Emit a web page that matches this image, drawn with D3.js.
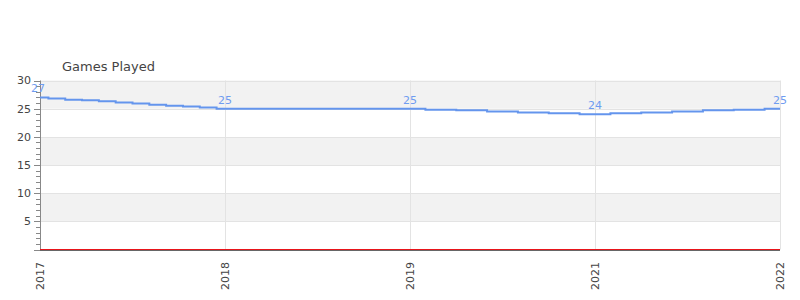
<!DOCTYPE html>
<html>
<head>
<meta charset="utf-8">
<script src="https://cdn.jsdelivr.net/npm/d3@7"></script>
<style>
  body { margin: 0; background: #fff; }
  svg { display: block; font-family: "DejaVu Sans", sans-serif; }
</style>
</head>
<body>
<div id="chart"></div>
<script>
const years = ["2017", "2018", "2019", "2021", "2022"]
const yearValues = [27, 25, 25, 24, 25]
// stepped values between one year label and the next
const steps2017 = [27, 26.8, 26.6, 26.5, 26.3, 26.1, 25.9, 25.7, 25.5, 25.4, 25.2, 25]
const steps2018 = [25, 25]
const steps2019 = [25, 24.8, 24.7, 24.5, 24.3, 24.2, 24]
const steps2021 = [24, 24.2, 24.3, 24.5, 24.7, 24.8, 25]
const baselineValues = [0, 0, 0, 0, 0]
const yTicks = [5, 10, 15, 20, 25, 30]

const width = 800
const height = 300
const plotLeft = 40, plotRight = 780, plotTop = 80.5, plotBottom = 249.5

const svg = d3.select("#chart")
  .append("svg")
  .attr("width", width)
  .attr("height", height)

const x = d3.scaleLinear().domain([0, years.length - 1]).range([plotLeft, plotRight])
const y = d3.scaleLinear().domain([0, 30]).range([plotBottom, plotTop])

// Alternating bands
const bands = d3.range(0, 30, 5)
svg.append("g")
  .selectAll("rect")
  .data(bands)
  .join("rect")
  .attr("x", plotLeft)
  .attr("width", plotRight - plotLeft)
  .attr("y", d => y(d + 5))
  .attr("height", d => y(d) - y(d + 5))
  .attr("fill", d => (d / 5) % 2 === 1 ? "#f2f2f2" : "#ffffff")

// Grid
svg.append("g")
  .selectAll("line")
  .data(yTicks)
  .join("line")
  .attr("x1", plotLeft).attr("x2", plotRight)
  .attr("y1", d => Math.round(y(d)) + 0.5)
  .attr("y2", d => Math.round(y(d)) + 0.5)
  .attr("stroke", "#e3e3e3")

svg.append("g")
  .selectAll("line")
  .data(years.slice(1))
  .join("line")
  .attr("x1", (d, i) => Math.round(x(i + 1)) + 0.5)
  .attr("x2", (d, i) => Math.round(x(i + 1)) + 0.5)
  .attr("y1", plotTop)
  .attr("y2", plotBottom)
  .attr("stroke", "#e3e3e3")

// Y axis
const yAxis = svg.append("g")
yAxis.append("line")
  .attr("x1", plotLeft + 0.5).attr("x2", plotLeft + 0.5)
  .attr("y1", plotTop).attr("y2", plotBottom + 1)
  .attr("stroke", "#888")

const minor = d3.range(0, 31).filter(v => v % 5 !== 0)
yAxis.selectAll(".minor")
  .data(minor)
  .join("line")
  .attr("class", "minor")
  .attr("x1", plotLeft - 4).attr("x2", plotLeft)
  .attr("y1", d => Math.round(y(d)) + 0.5)
  .attr("y2", d => Math.round(y(d)) + 0.5)
  .attr("stroke", "#888")

yAxis.selectAll(".major")
  .data([0].concat(yTicks))
  .join("line")
  .attr("class", "major")
  .attr("x1", plotLeft - 6).attr("x2", plotLeft)
  .attr("y1", d => Math.round(y(d)) + 0.5)
  .attr("y2", d => Math.round(y(d)) + 0.5)
  .attr("stroke", "#888")

yAxis.selectAll("text")
  .data(yTicks)
  .join("text")
  .attr("x", 31)
  .attr("y", d => y(d))
  .attr("dy", "0.35em")
  .attr("text-anchor", "end")
  .attr("font-size", "11px")
  .attr("fill", "#444")
  .text(d => d)

// Bottom axis
svg.append("line")
  .attr("x1", plotLeft).attr("x2", plotRight)
  .attr("y1", 250.5).attr("y2", 250.5)
  .attr("stroke", "#666")

svg.append("g")
  .selectAll("text")
  .data(years)
  .join("text")
  .attr("transform", (d, i) => `translate(${x(i)},262) rotate(-90)`)
  .attr("dy", "0.35em")
  .attr("text-anchor", "end")
  .attr("font-size", "11px")
  .attr("fill", "#444")
  .text(d => d)

// Baseline series (red)
svg.append("path")
  .datum(baselineValues)
  .attr("fill", "none")
  .attr("stroke", "#e8141a")
  .attr("stroke-width", 1)
  .attr("d", d3.line().x((d, i) => x(i)).y(d => y(d)))

// Stepped series
const segments = [steps2017, steps2018, steps2019, steps2021]
const points = []
segments.forEach((seg, s) => {
  seg.forEach((v, i) => {
    if (s > 0 && i === 0) return
    points.push({ pos: s + i / (seg.length - 1), value: v })
  })
})

svg.append("path")
  .datum(points)
  .attr("fill", "none")
  .attr("stroke", "#6495ed")
  .attr("stroke-width", 2)
  .attr("d", d3.line().curve(d3.curveStep).x(d => x(d.pos)).y(d => y(d.value)))

// Value labels
svg.append("g")
  .selectAll("text")
  .data(yearValues)
  .join("text")
  .attr("x", (d, i) => x(i) - (i === 0 ? 2 : 0))
  .attr("y", d => y(d) - 5)
  .attr("text-anchor", "middle")
  .attr("font-size", "11px")
  .attr("fill", "#6f9cf0")
  .text(d => d)

// Title
svg.append("text")
  .attr("x", 62)
  .attr("y", 71)
  .attr("font-size", "13px")
  .attr("fill", "#444")
  .text("Games Played")
</script>
</body>
</html>
